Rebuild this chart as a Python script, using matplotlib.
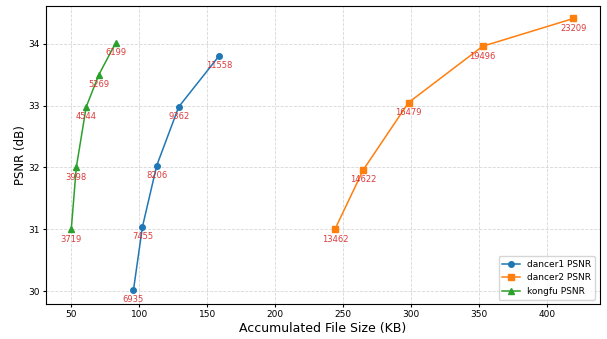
import matplotlib.pyplot as plt

# data
dancer1_kb = [95.8, 102.4, 112.9, 129.1, 159.0]
dancer1_psnr = [30.02, 31.04, 32.03, 32.98, 33.81]
dancer1_lbl = [6935, 7455, 8206, 9362, 11558]

dancer2_kb = [244.1, 264.9, 298.3, 352.8, 419.7]
dancer2_psnr = [31.0, 31.96, 33.05, 33.96, 34.41]
dancer2_lbl = [13462, 14622, 16479, 19496, 23209]

kongfu_kb = [50.0, 53.7, 61.0, 70.3, 82.8]
kongfu_psnr = [31.0, 32.0, 32.98, 33.5, 34.02]
kongfu_lbl = [3719, 3998, 4544, 5269, 6199]

fig, ax = plt.subplots(figsize=(6.07, 3.39), dpi=100)

series = [
    (dancer1_kb, dancer1_psnr, dancer1_lbl, 'o', 'dancer1 PSNR'),
    (dancer2_kb, dancer2_psnr, dancer2_lbl, 's', 'dancer2 PSNR'),
    (kongfu_kb, kongfu_psnr, kongfu_lbl, '^', 'kongfu PSNR'),
]
for xs, ys, lbls, m, name in series:
    ax.plot(xs, ys, marker=m, markersize=4, linewidth=1.1, label=name)
    for x, y, t in zip(xs, ys, lbls):
        ax.annotate(str(t), (x, y), textcoords='offset points', xytext=(0, -9),
                    ha='center', fontsize=6, color='#d62728', alpha=0.9)

ax.set_xlim(31.5, 439)
ax.set_ylim(29.79, 34.61)
ax.set_yticks([30, 31, 32, 33, 34])
ax.tick_params(labelsize=6.5, length=2.5, pad=2)
ax.set_xlabel('Accumulated File Size (KB)', fontsize=9, labelpad=2)
ax.set_ylabel('PSNR (dB)', fontsize=8.5, labelpad=1)
ax.grid(True, linestyle='--', alpha=0.5, linewidth=0.6)
ax.legend(loc='lower right', fontsize=6.5)

plt.subplots_adjust(left=0.076, right=0.988, top=0.982, bottom=0.103)
plt.savefig('out.png')
